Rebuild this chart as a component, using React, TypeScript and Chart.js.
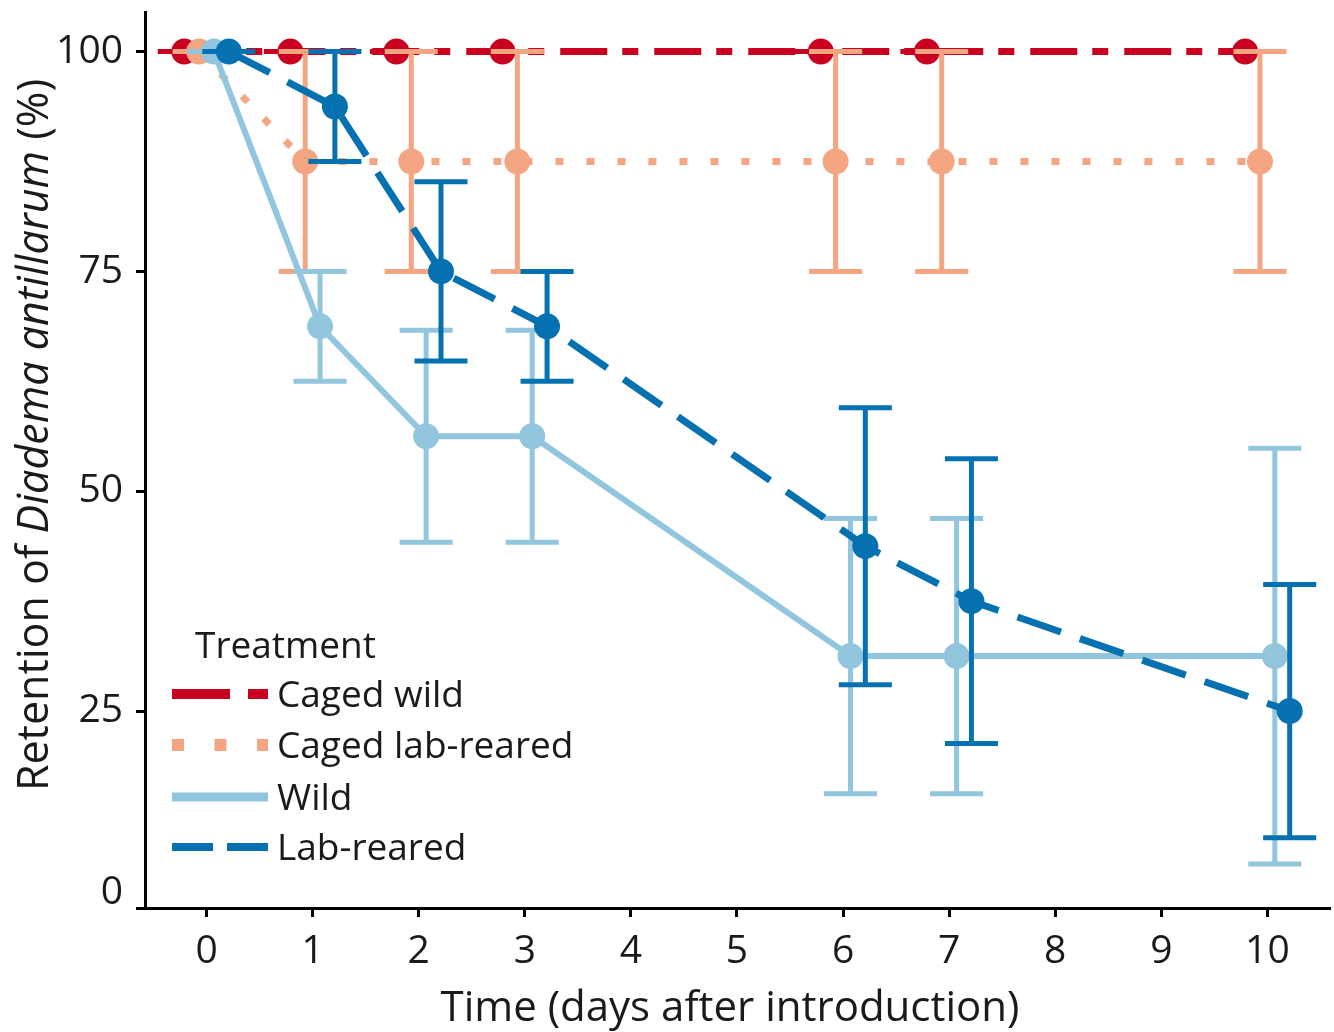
import React, { useEffect, useRef } from "react";
import { Chart, registerables } from "chart.js";

Chart.register(...registerables);

// ---------- data ----------
const days = [0, 1, 2, 3, 6, 7, 10];
const xTickValues = [0, 1, 2, 3, 4, 5, 6, 7, 8, 9, 10];
const yTickValues = [0, 25, 50, 75, 100];
const yTickLabels = ["0", "25", "50", "75", "100"];

const seriesNames = ["Caged wild", "Caged lab-reared", "Wild", "Lab-reared"];

const cagedWildMean = [100, 100, 100, 100, 100, 100, 100];
const cagedWildLow = [100, 100, 100, 100, 100, 100, 100];
const cagedWildHigh = [100, 100, 100, 100, 100, 100, 100];

const cagedLabMean = [100, 87.5, 87.5, 87.5, 87.5, 87.5, 87.5];
const cagedLabLow = [100, 75, 75, 75, 75, 75, 75];
const cagedLabHigh = [100, 100, 100, 100, 100, 100, 100];

const wildMean = [100, 68.75, 56.25, 56.25, 31.25, 31.25, 31.25];
const wildLow = [100, 62.5, 44.2, 44.2, 15.6, 15.6, 7.6];
const wildHigh = [100, 75, 68.3, 68.3, 46.9, 46.9, 54.9];

const labMean = [100, 93.75, 75, 68.75, 43.75, 37.5, 25];
const labLow = [100, 87.5, 64.8, 62.5, 28, 21.3, 10.6];
const labHigh = [100, 100, 85.2, 75, 59.5, 53.7, 39.4];

// ---------- style ----------
const FONT = "'Open Sans', 'Noto Sans', sans-serif";
const TEXT = "#1a1a1a";
const colors = ["#ca0020", "#f4a582", "#92c5de", "#0571b0"];
const dodge = [-0.21, -0.07, 0.07, 0.21];
const lineWidths = [7, 7, 6, 7];
const dashes: number[][] = [[47, 15, 16, 16], [8, 23], [], [46, 20]];
const legendWidths = [10, 12, 9, 8];
const legendDashes: number[][] = [[58, 18, 20, 18], [12, 30.5], [], [41, 14]];
const drawOrder = [4, 3, 2, 1];

const means = [cagedWildMean, cagedLabMean, wildMean, labMean];
const lows = [cagedWildLow, cagedLabLow, wildLow, labLow];
const highs = [cagedWildHigh, cagedLabHigh, wildHigh, labHigh];

const errorBarPlugin = {
  id: "errorBars",
  beforeDatasetDraw(chart: any, args: any) {
    const ds = chart.data.datasets[args.index];
    const xs = chart.scales.x;
    const ys = chart.scales.y;
    const ctx = chart.ctx;
    const half = xs.getPixelForValue(0.25) - xs.getPixelForValue(0);
    ctx.save();
    ctx.strokeStyle = ds.borderColor;
    ctx.lineWidth = 5;
    ctx.lineCap = "butt";
    ds.data.forEach((pt: any, i: number) => {
      const px = xs.getPixelForValue(pt.x);
      const pl = ys.getPixelForValue(ds.errLow[i]);
      const ph = ys.getPixelForValue(ds.errHigh[i]);
      ctx.beginPath();
      if (Math.abs(pl - ph) > 0.5) {
        ctx.moveTo(px, ph);
        ctx.lineTo(px, pl);
      }
      ctx.moveTo(px - half, ph);
      ctx.lineTo(px + half, ph);
      ctx.moveTo(px - half, pl);
      ctx.lineTo(px + half, pl);
      ctx.stroke();
    });
    ctx.restore();
  },
};

const textPlugin = {
  id: "texts",
  afterDraw(chart: any) {
    const ctx = chart.ctx;
    ctx.save();
    ctx.fillStyle = TEXT;
    // x title
    ctx.font = `42px ${FONT}`;
    ctx.textAlign = "center";
    ctx.textBaseline = "alphabetic";
    ctx.fillText("Time (days after introduction)", 730, 1021);
    // y title with italic species name
    const segs: [string, string][] = [
      ["Retention of ", `43px ${FONT}`],
      ["Diadema antillarum", `italic 43px ${FONT}`],
      [" (%)", `43px ${FONT}`],
    ];
    let total = 0;
    const widths = segs.map(([t, f]) => {
      ctx.font = f;
      const w = ctx.measureText(t).width;
      total += w;
      return w;
    });
    ctx.translate(48, 435);
    ctx.rotate(-Math.PI / 2);
    ctx.textAlign = "left";
    let cx = -total / 2;
    segs.forEach(([t, f], i) => {
      ctx.font = f;
      ctx.fillText(t, cx, 0);
      cx += widths[i];
    });
    ctx.restore();

    // legend
    ctx.save();
    ctx.fillStyle = TEXT;
    ctx.font = `37px ${FONT}`;
    ctx.textAlign = "left";
    ctx.textBaseline = "alphabetic";
    ctx.fillText("Treatment", 195, 658);
    const rows = [694, 745, 797, 847];
    seriesNames.forEach((name, i) => {
      const y = rows[i];
      ctx.save();
      ctx.strokeStyle = colors[i];
      ctx.lineWidth = legendWidths[i];
      ctx.lineCap = "butt";
      ctx.setLineDash(legendDashes[i]);
      ctx.beginPath();
      ctx.moveTo(172, y);
      ctx.lineTo(268, y);
      ctx.stroke();
      ctx.restore();
      ctx.fillText(name, 277, y + 13);
    });
    ctx.restore();
  },
};

export default function App() {
  const ref = useRef<HTMLCanvasElement>(null);
  useEffect(() => {
    let chart: Chart | null = null;
    let cancelled = false;
    const make = () => {
      if (cancelled || !ref.current) return;
      const datasets = seriesNames.map((name, k) => ({
        label: name,
        data: days.map((d, i) => ({ x: d + dodge[k], y: means[k][i] })),
        errLow: lows[k],
        errHigh: highs[k],
        borderColor: colors[k],
        backgroundColor: colors[k],
        borderWidth: lineWidths[k],
        borderDash: dashes[k],
        borderCapStyle: "butt",
        pointRadius: 13,
        pointHoverRadius: 13,
        pointBorderWidth: 0,
        pointBackgroundColor: colors[k],
        tension: 0,
        fill: false,
        order: drawOrder[k],
        clip: false,
      }));
      chart = new Chart(ref.current, {
        type: "line",
        data: { datasets } as any,
        options: {
          responsive: false,
          animation: false,
          devicePixelRatio: 1,
          layout: { autoPadding: false, padding: { top: 12, right: 4, left: 0, bottom: 0 } },
          plugins: { legend: { display: false }, tooltip: { enabled: false } },
          scales: {
            x: {
              type: "linear",
              min: -0.58,
              max: 10.59,
              afterBuildTicks: (scale: any) => {
                scale.ticks = xTickValues.map((v) => ({ value: v }));
              },
              afterFit: (scale: any) => {
                scale.height = 124;
                scale.paddingLeft = 0;
                scale.paddingRight = 0;
              },
              grid: {
                drawOnChartArea: false,
                drawTicks: true,
                tickLength: 9,
                tickWidth: 3,
                tickColor: "#000",
              },
              border: { display: true, color: "#000", width: 3 },
              ticks: {
                autoSkip: false,
                maxRotation: 0,
                padding: 11,
                color: TEXT,
                font: { family: FONT, size: 39 },
                callback: (v: any) => String(v),
              },
            },
            y: {
              type: "linear",
              min: 2.6,
              max: 104.5,
              afterBuildTicks: (scale: any) => {
                scale.ticks = yTickValues.map((v) => ({ value: v === 0 ? scale.min : v }));
              },
              afterFit: (scale: any) => {
                scale.width = 145;
                scale.paddingTop = 0;
                scale.paddingBottom = 0;
              },
              grid: {
                drawOnChartArea: false,
                drawTicks: true,
                tickLength: 9,
                tickWidth: 3,
                tickColor: "#000",
              },
              border: { display: true, color: "#000", width: 3 },
              ticks: {
                padding: 13,
                color: TEXT,
                font: (c: any) =>
                  c.index === 0
                    ? { family: FONT, size: 39, lineHeight: "30px" }
                    : { family: FONT, size: 39, lineHeight: 1.2 },
                callback: (_v: any, i: number) => (i === 0 ? [yTickLabels[0], ""] : yTickLabels[i]),
              },
            },
          },
        } as any,
        plugins: [errorBarPlugin, textPlugin],
      });
    };
    const fonts = (document as any).fonts;
    if (fonts && fonts.load) {
      Promise.all([
        fonts.load(`39px "Open Sans"`),
        fonts.load(`italic 43px "Open Sans"`),
      ]).then(make, make);
    } else {
      make();
    }
    return () => {
      cancelled = true;
      if (chart) chart.destroy();
    };
  }, []);
  return (
    <div style={{ position: "fixed", left: 0, top: 0, width: 1334, height: 1032, background: "#fff" }}>
      <canvas ref={ref} width={1334} height={1032} style={{ display: "block", width: 1334, height: 1032 }} />
    </div>
  );
}
